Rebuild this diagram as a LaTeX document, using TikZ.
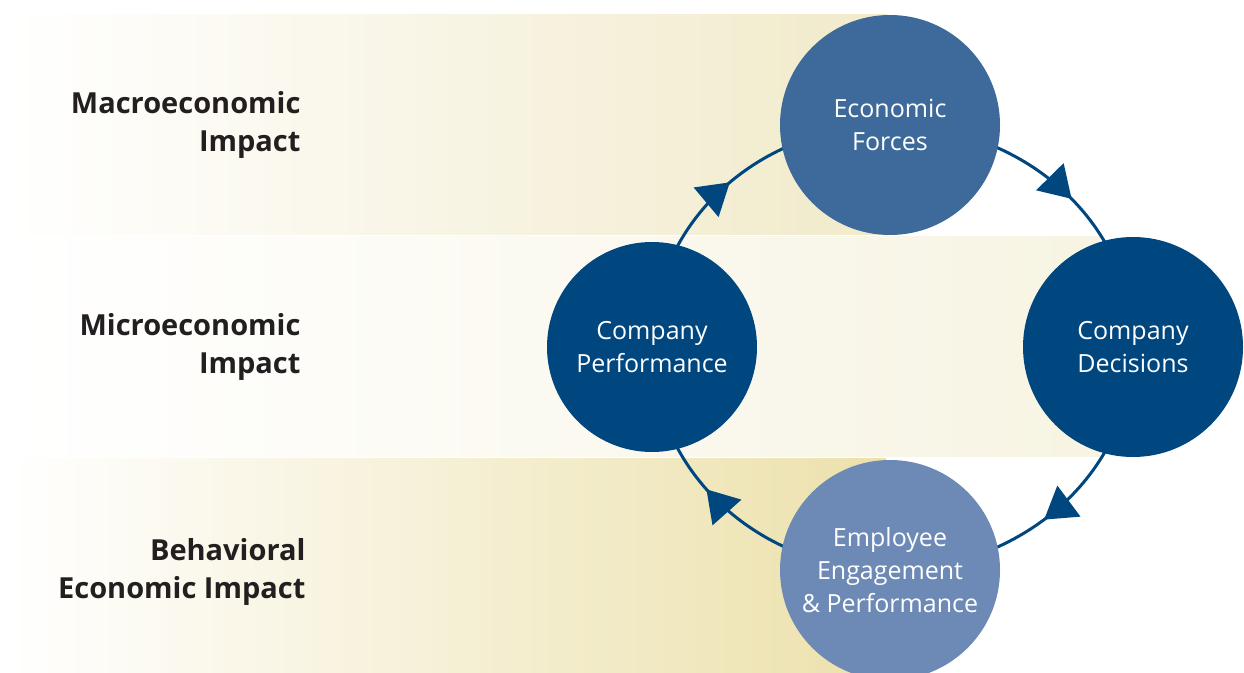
\documentclass[tikz,border=0pt]{standalone}
\usepackage{fontspec}
\setmainfont{Open Sans}
\usetikzlibrary{arrows.meta,decorations.markings}
\definecolor{lineblue}{HTML}{00467F}
\definecolor{efblue}{HTML}{3E6A9B}
\definecolor{eeblue}{HTML}{6D89B5}
\definecolor{topY}{HTML}{F1EACA}
\definecolor{topM}{HTML}{F6F2DE}
\definecolor{midY}{HTML}{F7F4E3}
\definecolor{midM}{HTML}{FAF8EE}
\definecolor{botY}{HTML}{ECE1AC}
\definecolor{botM}{HTML}{F3EDD0}
\definecolor{labelc}{HTML}{231F20}
\begin{document}
\begin{tikzpicture}[x=1pt,y=1pt,
  bubble/.style={circle, inner sep=0pt, text=white, align=center,
    font=\fontsize{25}{33}\selectfont},
  lab/.style={anchor=east, align=right, text=labelc,
    font=\bfseries\fontsize{29}{37.5}\selectfont},
  cyc/.style={draw=lineblue, line width=3pt, postaction={decorate},
    decoration={markings, mark=at position #1 with
      {\arrow[lineblue]{Triangle[length=31pt,width=38pt]}}}}
]
\useasboundingbox (0,0) rectangle (1244,672);
% bands
\shade[left color=white, middle color=topM, right color=topY] (7,437) rectangle (888,657);
\shade[left color=white, middle color=midM, right color=midY] (18,215) rectangle (1100,435);
\shade[left color=white, middle color=botM, right color=botY] (5,0) rectangle (886,213);
% labels
\node[lab] (L1) at (304,547) {Macroeconomic\\Impact};
\node[lab] (L2) at (304,325) {Microeconomic\\Impact};
\node[lab] (L3) at (309,100) {Behavioral\\Economic Impact};
% cycle positions
\path (890,547) coordinate (EFc) (652,325) coordinate (CPc)
      (1133,325) coordinate (CDc) (890,102) coordinate (EEc);
\draw[cyc=0.55] (EFc) to[out=0,in=90] (CDc);
\draw[cyc=0.55] (CDc) to[out=270,in=0] (EEc);
\draw[cyc=0.57] (EEc) to[out=180,in=270] (CPc);
\draw[cyc=0.52] (CPc) to[out=90,in=180] (EFc);
\node[bubble, fill=efblue, minimum size=220pt] (EF) at (EFc) {Economic\\Forces};
\node[bubble, fill=lineblue, minimum size=210pt] (CP) at (CPc) {Company\\Performance};
\node[bubble, fill=lineblue, minimum size=220pt] (CD) at (CDc) {Company\\Decisions};
\node[bubble, fill=eeblue, minimum size=220pt] (EE) at (EEc) {Employee\\Engagement\\\& Performance};
\end{tikzpicture}
\end{document}
